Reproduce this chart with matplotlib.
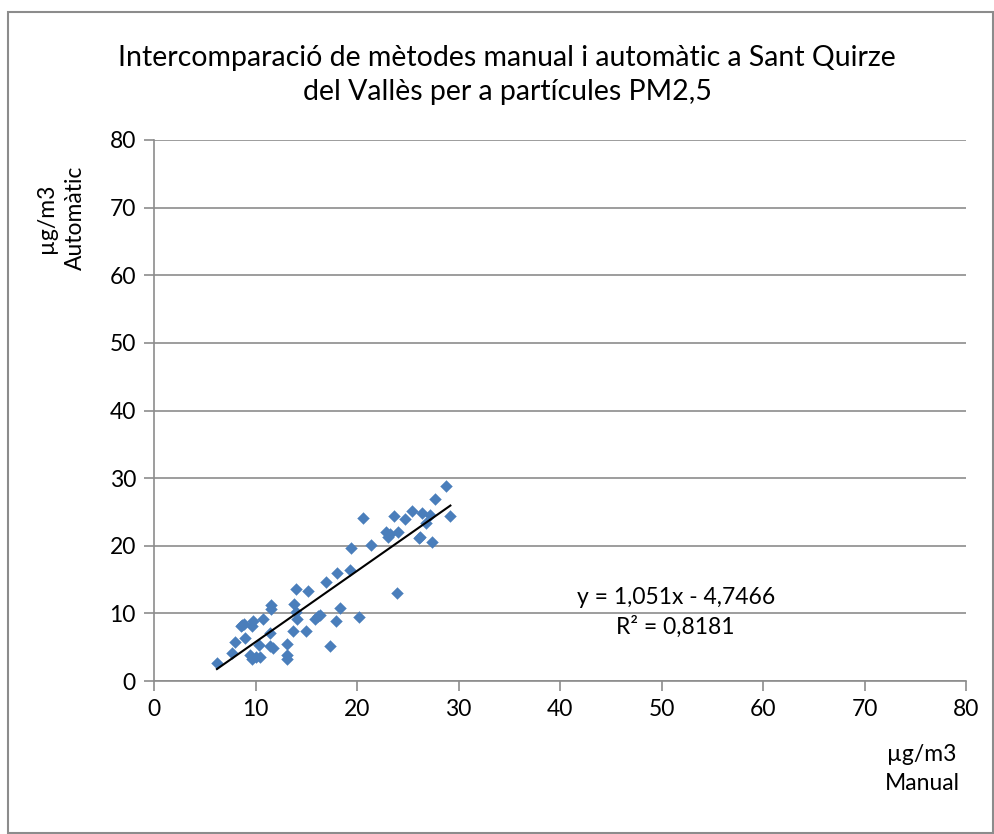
import matplotlib
matplotlib.use("Agg")
import matplotlib.pyplot as plt
from matplotlib.patches import Rectangle
import numpy as np

plt.rcParams['font.family'] = ['Lato', 'DejaVu Sans']

manual = [6.2, 7.7, 8.0, 8.6, 8.7, 8.9, 9.0, 9.7, 9.8, 9.5, 9.7, 10.3, 10.4, 10.0,
          10.7, 11.4, 11.5, 11.5, 11.4, 11.7, 13.1, 13.1, 13.1, 13.7, 13.8, 14.0,
          14.0, 14.1, 15.0, 15.2, 15.9, 16.2, 16.4, 16.9, 17.3, 17.9, 18.0, 18.3,
          19.4, 19.3, 20.2, 20.6, 21.4, 22.9, 23.1, 23.3, 23.6, 24.0, 23.9, 24.7,
          25.4, 26.1, 26.2, 26.4, 26.8, 27.2, 27.4, 27.7, 28.8, 29.2]
automatic = [2.6, 4.2, 5.7, 8.1, 8.3, 8.5, 6.3, 8.1, 8.9, 3.8, 3.3, 5.3, 3.6, 3.5,
             9.1, 7.1, 11.2, 10.6, 5.2, 4.9, 5.5, 3.9, 3.3, 7.4, 11.4, 13.6,
             10.2, 9.2, 7.4, 13.3, 9.1, 9.6, 9.8, 14.7, 5.2, 8.9, 15.9, 10.8,
             19.7, 16.4, 9.4, 24.1, 20.1, 22.0, 21.3, 21.7, 24.4, 22.0, 13.0, 23.9,
             25.2, 21.1, 21.3, 24.9, 23.4, 24.5, 20.5, 26.9, 28.8, 24.4]
slope = 1.051
intercept = -4.7466
r2_text = "R² = 0,8181"
eq_text = "y = 1,051x - 4,7466"
title = "Intercomparació de mètodes manual i automàtic a Sant Quirze\ndel Vallès per a partícules PM2,5"
x_ticks = [0, 10, 20, 30, 40, 50, 60, 70, 80]
y_ticks = [0, 10, 20, 30, 40, 50, 60, 70, 80]

W, H = 994, 834
fig = plt.figure(figsize=(W / 100, H / 100), dpi=100)
fig.patch.set_facecolor('white')

# outer border
fig.add_artist(Rectangle((8 / W, 1 - 833 / H), (W - 9) / W, (833 - 12) / H,
                         transform=fig.transFigure, fill=False,
                         edgecolor='#8c8c8c', linewidth=1.5))

ax = fig.add_axes([154 / W, 1 - 681 / H, (966 - 154) / W, (681 - 140) / H])
ax.set_xlim(0, 80)
ax.set_ylim(0, 80)
ax.set_xticks(x_ticks)
ax.set_yticks(y_ticks)
ax.tick_params(axis='both', direction='out', length=7, width=1.2,
               color='#8c8c8c', labelsize=16.5, labelcolor='black', pad=6)
for s in ['top', 'right']:
    ax.spines[s].set_visible(False)
for s in ['left', 'bottom']:
    ax.spines[s].set_color('#8c8c8c')
    ax.spines[s].set_linewidth(1.2)
ax.yaxis.grid(True, color='#8c8c8c', linewidth=1.2)
ax.set_axisbelow(True)

ax.scatter(manual, automatic, marker='D', s=36, color='#4a7ebb',
           edgecolors='#4a7ebb', linewidths=0.3, zorder=3)
xs = np.array([min(manual), max(manual)])
ax.plot(xs, slope * xs + intercept, color='black', linewidth=1.5, zorder=4)

ax.text(51.4, 12.3, eq_text, ha='center', va='center', fontsize=16.5)
ax.text(51.4, 8.0, r2_text, ha='center', va='center', fontsize=16.5)

fig.text(507 / W, 1 - 75 / H, title, ha='center', va='center', fontsize=20.5,
         linespacing=1.4)
fig.text(61 / W, 1 - 218 / H, "µg/m3\nAutomàtic", ha='center', va='center',
         rotation=90, fontsize=16.5, linespacing=1.45)
fig.text(922 / W, 1 - 769 / H, "µg/m3\nManual", ha='center', va='center',
         fontsize=16.5, linespacing=1.5)

fig.savefig('out.png', dpi=100)
